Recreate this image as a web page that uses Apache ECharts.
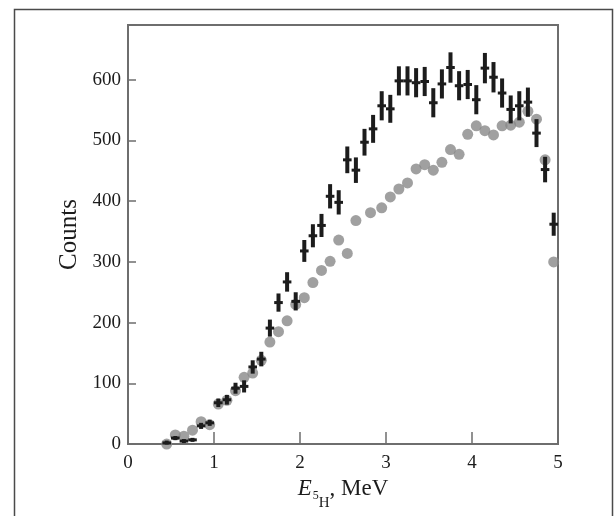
<!DOCTYPE html>
<html>
<head>
<meta charset="utf-8">
<script src="https://cdn.jsdelivr.net/npm/echarts@6/dist/echarts.min.js"></script>
<style>html,body{margin:0;padding:0;background:#fff;}#c{width:614px;height:516px;}</style>
</head>
<body>
<div id="c"></div>
<script>
// Measured spectrum (black crosses with error bars)
var energies = [0.45,0.55,0.65,0.75,0.85,0.95,1.05,1.15,1.25,1.35,1.45,1.55,1.65,1.75,1.85,1.95,2.05,2.15,2.25,2.35,2.45,2.55,2.65,2.75,2.85,2.95,3.05,3.15,3.25,3.35,3.45,3.55,3.65,3.75,3.85,3.95,4.05,4.15,4.25,4.35,4.45,4.55,4.65,4.75,4.85,4.95];
var measuredCounts = [2,10,5,7,30,35,68,73,92,95,127,140,191,233,267,235,318,343,360,408,398,468,451,497,519,557,552,598,598,595,597,562,593,620,590,592,567,619,604,578,551,557,563,512,452,362];
var measuredErrors = [3,3,3,3,5,5,7,8,9,10,11,12,14,15,16,15,18,19,19,20,20,22,21,22,23,24,23,24,24,24,24,24,24,25,24,24,24,25,25,24,23,24,24,23,21,19];
// Simulated spectrum (gray circles)
var simEnergies = [0.45,0.55,0.65,0.75,0.85,0.95,1.05,1.15,1.25,1.35,1.45,1.55,1.65,1.75,1.85,1.95,2.05,2.15,2.25,2.35,2.45,2.55,2.65,2.82,2.95,3.05,3.15,3.25,3.35,3.45,3.55,3.65,3.75,3.85,3.95,4.05,4.15,4.25,4.35,4.45,4.55,4.65,4.75,4.85,4.95];
var simCounts = [0,15,13,23,37,32,66,72,88,110,117,138,168,185,203,230,241,266,286,301,336,314,368,381,389,407,420,430,453,460,451,464,485,477,510,524,516,509,524,525,530,548,535,468,300];
var xTicks = [0,1,2,3,4,5];
var yTicks = [0,100,200,300,400,500,600];

var measuredData = energies.map(function(e,i){return [e, measuredCounts[i], measuredErrors[i]];});
var simData = simEnergies.map(function(e,i){return [e, simCounts[i]];});

var chart = echarts.init(document.getElementById('c'), null, {renderer:'canvas'});
var serif = '"Liberation Serif","DejaVu Serif",serif';
var axisColor = '#6e6e6e';
var ink = '#1c1c1c';

chart.setOption({
  animation:false,
  backgroundColor:'#fff',
  graphic:[{
    type:'rect', left:12, top:7, z:-1,
    shape:{x:0,y:0,width:598,height:530},
    style:{fill:'none', stroke:'#4a4a4a', lineWidth:1.5}
  }],
  grid:{left:128, right:56, top:25, bottom:68, show:true, borderColor:axisColor, borderWidth:2, backgroundColor:'transparent'},
  xAxis:{
    type:'value', min:0, max:5, interval:1,
    name:'{e|E}{s|5}{h|H}{t|, MeV}',
    nameLocation:'middle', nameGap:30,
    nameTextStyle:{
      color:ink, fontFamily:serif,
      rich:{
        e:{fontSize:23, fontStyle:'italic', fontFamily:serif, color:ink, verticalAlign:'bottom'},
        s:{fontSize:12, fontFamily:serif, color:ink, verticalAlign:'bottom', padding:[0,0,-2,1]},
        h:{fontSize:15, fontFamily:serif, color:ink, verticalAlign:'bottom', padding:[0,0,-11,0]},
        t:{fontSize:23, fontFamily:serif, color:ink, verticalAlign:'bottom'}
      }
    },
    axisLine:{lineStyle:{color:axisColor, width:2}},
    axisTick:{inside:true, length:12, lineStyle:{color:axisColor, width:1.5}},
    axisLabel:{color:ink, fontFamily:serif, fontSize:19, margin:9,
      formatter:function(v){return xTicks.indexOf(v)>=0 ? String(v) : '';}},
    splitLine:{show:false}
  },
  yAxis:{
    type:'value', min:0, max:690, interval:100,
    name:'Counts', nameLocation:'middle', nameGap:42, nameRotate:90,
    nameTextStyle:{color:ink, fontFamily:serif, fontSize:25},
    axisLine:{lineStyle:{color:axisColor, width:2}},
    axisTick:{inside:true, length:8, lineStyle:{color:axisColor, width:1.5}},
    axisLabel:{color:ink, fontFamily:serif, fontSize:19, margin:7,
      formatter:function(v){return yTicks.indexOf(v)>=0 ? String(v) : '';}},
    splitLine:{show:false}
  },
  series:[
    {
      type:'scatter', data:simData, symbol:'circle', symbolSize:11,
      itemStyle:{color:'#888888'}, z:2
    },
    {
      type:'custom', data:measuredData, z:3,
      encode:{x:0, y:1},
      renderItem:function(params, api){
        var x = api.value(0), y = api.value(1), e = api.value(2);
        var c = api.coord([x,y]);
        var t = api.coord([x, y+e]);
        var b = api.coord([x, Math.max(0,y-e)]);
        var l = api.coord([x-0.05, y]);
        var r = api.coord([x+0.05, y]);
        var vh = Math.max(b[1]-t[1], 4);
        return {type:'group', children:[
          {type:'rect', shape:{x:c[0]-2, y:c[1]-vh/2 + ((b[1]-c[1])-(c[1]-t[1]))/2, width:4, height:vh}, style:{fill:ink}},
          {type:'rect', shape:{x:l[0], y:c[1]-1.5, width:r[0]-l[0], height:3}, style:{fill:ink}}
        ]};
      }
    }
  ]
});
</script>
</body>
</html>
